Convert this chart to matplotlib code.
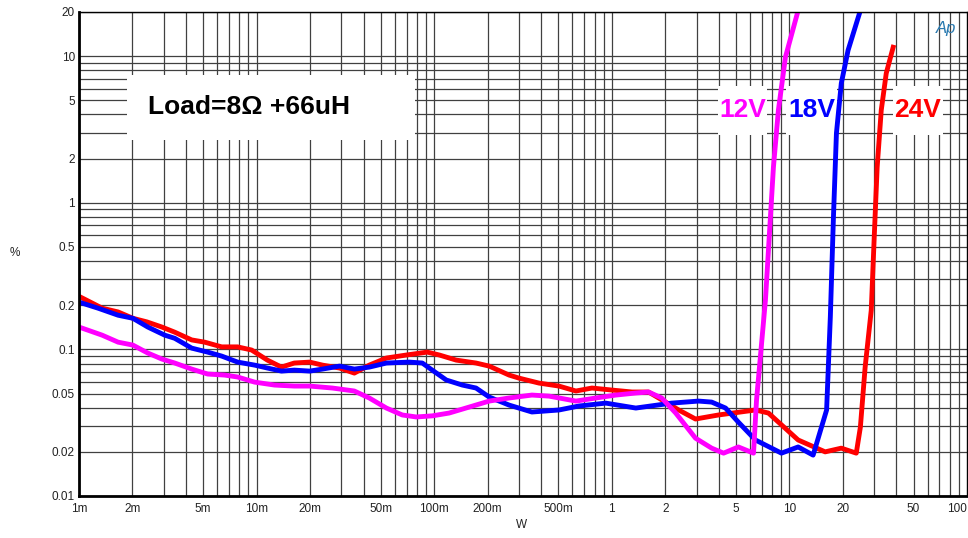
import matplotlib
matplotlib.use("Agg")
import matplotlib.pyplot as plt
from matplotlib.patches import Rectangle
from matplotlib.ticker import FixedLocator, FixedFormatter, NullFormatter

plt.rcParams['font.family'] = ['Liberation Sans', 'DejaVu Sans']

# THD+N (%) vs output power (W), load 8 ohm + 66uH
red_w = [0.001, 0.00135, 0.00166, 0.00201, 0.00241, 0.00293, 0.00346, 0.00431, 0.0051, 0.00636,
         0.00782, 0.00937, 0.0115, 0.0138, 0.0163, 0.0199, 0.0235, 0.0293, 0.0355, 0.0431,
         0.0538, 0.0696, 0.0914, 0.107, 0.133, 0.172, 0.204, 0.264, 0.30, 0.389,
         0.504, 0.628, 0.773, 1.0, 1.3, 1.61, 2.01, 2.38, 2.96, 3.99,
         6.44, 7.62, 11.2, 15.9, 19.6, 23.8, 25.1, 26.7, 28.9, 30.1,
         31.2, 32.9, 35.1, 38.4]
red_pct = [0.23, 0.191, 0.18, 0.163, 0.154, 0.142, 0.131, 0.116, 0.112, 0.104,
           0.104, 0.099, 0.0845, 0.0757, 0.0807, 0.0819, 0.0781, 0.0746, 0.0689, 0.0781,
           0.0873, 0.0915, 0.0958, 0.0915, 0.0845, 0.0807, 0.0769, 0.0668, 0.0637, 0.0589,
           0.0562, 0.052, 0.0545, 0.0528, 0.0512, 0.0512, 0.0437, 0.0386, 0.0335, 0.0357,
           0.0386, 0.0368, 0.0241, 0.02, 0.0212, 0.0196, 0.0295, 0.0757, 0.185, 0.621,
           1.75, 4.28, 7.64, 11.5]

blue_w = [0.001, 0.00128, 0.00166, 0.00201, 0.00244, 0.00304, 0.00346, 0.00431, 0.0053, 0.00636,
          0.00782, 0.00975, 0.0115, 0.0138, 0.0163, 0.0199, 0.0235, 0.0293, 0.0355, 0.0431,
          0.0538, 0.0724, 0.0857, 0.0975, 0.117, 0.144, 0.172, 0.204, 0.264, 0.355,
          0.504, 0.653, 0.925, 1.365, 2.17, 3.08, 3.65, 4.37, 5.16, 6.44,
          9.02, 11.2, 13.6, 16.2, 17.0, 17.7, 18.4, 19.6, 21.4, 25.1]
blue_pct = [0.21, 0.191, 0.171, 0.163, 0.142, 0.125, 0.119, 0.102, 0.0958, 0.090,
            0.0819, 0.0781, 0.0746, 0.0711, 0.0722, 0.0711, 0.0734, 0.0769, 0.0734, 0.0757,
            0.0807, 0.0819, 0.0807, 0.0722, 0.0618, 0.0571, 0.0545, 0.0473, 0.0417, 0.0374,
            0.0386, 0.0411, 0.0430, 0.0398, 0.0430, 0.0444, 0.0437, 0.0398, 0.0319, 0.0241,
            0.0196, 0.0216, 0.019, 0.0386, 0.166, 0.798, 2.98, 6.53, 10.97, 20.5]

mag_w = [0.001, 0.00135, 0.00166, 0.00201, 0.00244, 0.00293, 0.00346, 0.00431, 0.0053, 0.0066,
         0.00782, 0.00975, 0.01262, 0.0163, 0.0199, 0.0267, 0.0355, 0.0431, 0.0538, 0.0661,
         0.0792, 0.0975, 0.1214, 0.1573, 0.204, 0.264, 0.355, 0.443, 0.628, 0.813,
         1.053, 1.365, 1.61, 1.91, 2.29, 2.96, 3.65, 4.26, 5.16, 6.28,
         6.53, 7.33, 8.13, 8.67, 9.5, 11.2]
mag_pct = [0.142, 0.125, 0.112, 0.107, 0.0944, 0.0859, 0.0807, 0.0734, 0.0679, 0.0668,
           0.0648, 0.0598, 0.0571, 0.0562, 0.0562, 0.0545, 0.052, 0.0466, 0.0398, 0.0357,
           0.0346, 0.0352, 0.0368, 0.0404, 0.0444, 0.0466, 0.0488, 0.048, 0.0444, 0.0466,
           0.0488, 0.0504, 0.0512, 0.0466, 0.0368, 0.0248, 0.0212, 0.0196, 0.0216, 0.0196,
           0.0451, 0.217, 1.75, 4.28, 9.84, 20.5]

x_ticks = [0.001, 0.002, 0.005, 0.01, 0.02, 0.05, 0.1, 0.2, 0.5, 1, 2, 5, 10, 20, 50, 100]
x_labels = ['1m', '2m', '5m', '10m', '20m', '50m', '100m', '200m', '500m',
            '1', '2', '5', '10', '20', '50', '100']
y_ticks = [0.01, 0.02, 0.05, 0.1, 0.2, 0.5, 1, 2, 5, 10, 20]
y_labels = ['0.01', '0.02', '0.05', '0.1', '0.2', '0.5', '1', '2', '5', '10', '20']

fig = plt.figure(figsize=(9.68, 5.38), dpi=100)
ax = fig.add_axes([79 / 968, 42 / 538, 888 / 968, 484 / 538])
ax.set_xscale('log')
ax.set_yscale('log')
ax.set_xlim(0.001, 100)
ax.set_ylim(0.01, 20)

# grid at every 1..9 multiple of each decade
xgrid = [m * 10.0 ** e for e in range(-3, 2) for m in range(1, 10)]
ygrid = [m * 10.0 ** e for e in range(-2, 2) for m in range(1, 10) if m * 10.0 ** e <= 20]
for gx in xgrid:
    ax.axvline(gx, color='0.25', lw=0.9, zorder=0.5)
for gy in ygrid:
    ax.axhline(gy, color='0.25', lw=0.9, zorder=0.5)

ax.xaxis.set_major_locator(FixedLocator(x_ticks))
ax.xaxis.set_major_formatter(FixedFormatter(x_labels))
ax.xaxis.set_minor_formatter(NullFormatter())
ax.yaxis.set_major_locator(FixedLocator(y_ticks))
ax.yaxis.set_major_formatter(FixedFormatter(y_labels))
ax.yaxis.set_minor_formatter(NullFormatter())
ax.tick_params(which='both', length=0, labelsize=8.5, colors='#222222')
ax.tick_params(axis='x', pad=5)
ax.tick_params(axis='y', pad=3)
ax.get_xticklabels()[-1].set_ha('right')

for side in ['left', 'bottom']:
    ax.spines[side].set_linewidth(2)
for side in ['top', 'right']:
    ax.spines[side].set_linewidth(1)

# white label boxes
ax.add_patch(Rectangle((0.054, 0.7355), 0.324, 0.1345, transform=ax.transAxes,
                       facecolor='white', edgecolor='none', zorder=1))
ax.text(0.0777, 0.803, 'Load=8Ω +66uH', transform=ax.transAxes, fontsize=19,
        fontweight='bold', color='black', va='center', ha='left', zorder=1.5)

for x0, x1, txt, col in [(0.7196, 0.7748, '12V', '#ff00ff'),
                         (0.796, 0.8536, '18V', '#0000ff'),
                         (0.9167, 0.973, '24V', '#ff0000')]:
    ax.add_patch(Rectangle((x0, 0.746), x1 - x0, 0.101, transform=ax.transAxes,
                           facecolor='white', edgecolor='none', zorder=1))
    ax.text((x0 + x1) / 2, 0.7975, txt, transform=ax.transAxes, fontsize=19,
            fontweight='bold', color=col, va='center', ha='center', zorder=1.5)

ax.plot(red_w, red_pct, color='#ff0000', lw=3.5, zorder=2)
ax.plot(blue_w, blue_pct, color='#0000ff', lw=3.5, zorder=2.1)
ax.plot(mag_w, mag_pct, color='#ff00ff', lw=3.5, zorder=2.2)

ax.text(0.988, 0.965, 'Ap', transform=ax.transAxes, fontsize=12, style='italic',
        color='#2a7ab0', ha='right', va='center', zorder=3)

fig.text(15 / 968, 1 - 253 / 538, '%', fontsize=8.5, ha='center', va='center', color='#222222')
fig.text(522 / 968, 1 - 525 / 538, 'W', fontsize=8.5, ha='center', va='center', color='#222222')

fig.savefig('out.png', dpi=100)
